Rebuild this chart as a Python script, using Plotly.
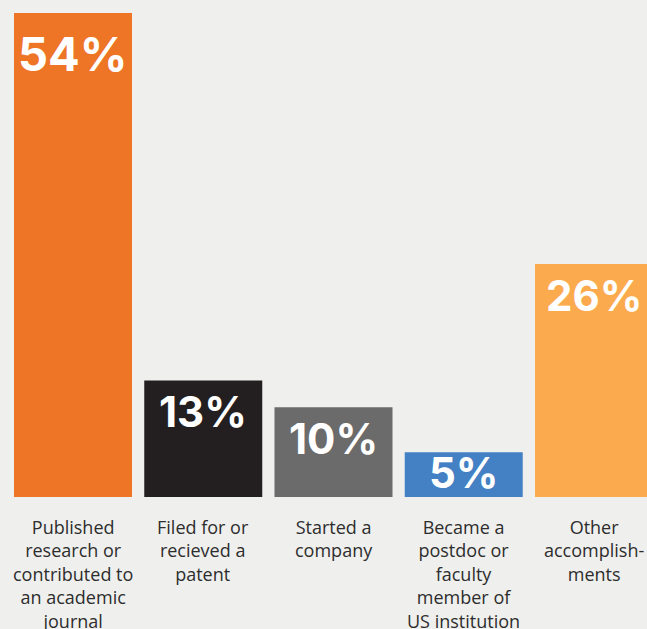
import plotly.graph_objects as go

bg = 'rgb(239,240,238)'

categories = ['Published<br>research or<br>contributed to<br>an academic<br>journal',
              'Filed for or<br>recieved a<br>patent',
              'Started a<br>company',
              'Became a<br>postdoc or<br>faculty<br>member of<br>US institution',
              'Other<br>accomplish-<br>ments']
values = [54, 13, 10, 5, 26]
bar_colors = ['#ee7426', '#231f20', '#6b6b6b', '#4380c4', '#fbab4e']

x_idx = list(range(len(categories)))

fig = go.Figure(go.Bar(
    x=x_idx,
    y=values,
    marker=dict(color=bar_colors, line=dict(width=0)),
    hoverinfo='skip',
))

annotations = []
for i, v in enumerate(values):
    # big number for the tall bar, tighter fit for the short one
    if v >= 50:
        size, shift = 47, -10
    elif v < 8:
        size, shift = 42, 7
    else:
        size, shift = 42, -4
    annotations.append(dict(
        x=i, y=v, xref='x', yref='y',
        text=f'<b>{v}%</b>', showarrow=False,
        yanchor='top', yshift=shift,
        font=dict(family='Inter', size=size, color='white'),
    ))
    # category label under bar
    annotations.append(dict(
        x=i, y=0, xref='x', yref='y',
        text=categories[i], showarrow=False,
        yanchor='top', yshift=-16, align='center',
        font=dict(family='Open Sans', size=18, color='#2d2d2d'),
    ))

fig.update_layout(
    width=647, height=629,
    margin=dict(l=0, r=0, t=0, b=132),
    paper_bgcolor=bg, plot_bgcolor=bg,
    bargap=0.094,
    showlegend=False,
    annotations=annotations,
    xaxis=dict(range=[-0.5605, 4.407], showticklabels=False, showgrid=False,
               zeroline=False, showline=False, ticks=''),
    yaxis=dict(range=[0, 55.45], showticklabels=False, showgrid=False,
               zeroline=False, showline=False, ticks=''),
)

# drop the page's default body margin so the chart fills the window
fig.write_html('out.html',
               config={'displayModeBar': False},
               post_script="document.body.style.margin='0';"
                           "document.body.style.background='rgb(239,240,238)';")
